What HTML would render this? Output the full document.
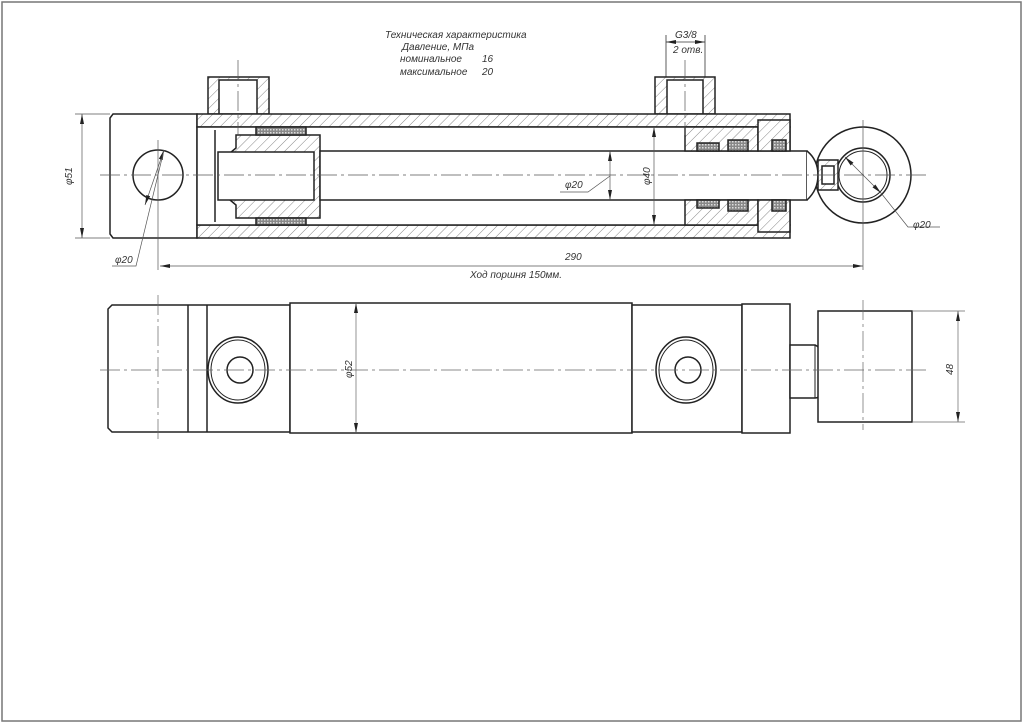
<!DOCTYPE html>
<html><head><meta charset="utf-8"><style>
html,body{margin:0;padding:0;background:#fff}
svg{display:block}
text{font-family:"Liberation Sans Narrow","Liberation Sans","DejaVu Sans",sans-serif;font-style:italic;fill:#333}
</style></head><body>
<svg width="1024" height="724" viewBox="0 0 1024 724" xmlns="http://www.w3.org/2000/svg">
<defs>
<pattern id="h" patternUnits="userSpaceOnUse" width="7" height="7" patternTransform="rotate(45)">
<rect width="7" height="7" fill="#fff"/><line x1="0" y1="0" x2="0" y2="7" stroke="#555" stroke-width="0.7"/></pattern>
<pattern id="x" patternUnits="userSpaceOnUse" width="3" height="3">
<rect width="3" height="3" fill="#888"/><rect width="1.5" height="1.5" fill="#ddd"/></pattern>
<marker id="a" markerWidth="10" markerHeight="6" refX="10" refY="3" orient="auto-start-reverse" markerUnits="userSpaceOnUse"><path d="M0,1 L10,3 L0,5z" fill="#222"/></marker>
</defs>
<rect x="2" y="2" width="1019" height="719" fill="none" stroke="#777" stroke-width="1.5"/>

<text x="385" y="38" font-size="10">Техническая характеристика</text>
<text x="402" y="50" font-size="10">Давление, МПа</text>
<text x="400" y="62" font-size="10">номинальное</text><text x="482" y="62" font-size="10">16</text>
<text x="400" y="75" font-size="10">максимальное</text><text x="482" y="75" font-size="10">20</text>
<text x="675" y="38" font-size="10">G3/8</text>
<text x="673" y="53" font-size="10">2 отв.</text>
<g stroke="#333" stroke-width="0.8" fill="none">
<line x1="666" y1="35" x2="666" y2="77"/><line x1="705" y1="35" x2="705" y2="77"/>
<line x1="666" y1="42" x2="705" y2="42" marker-start="url(#a)" marker-end="url(#a)"/>
</g>

<g stroke="#222" stroke-width="1.5">
<path d="M113,114 L197,114 L197,238 L113,238 L110,234 L110,118 Z" fill="#fff"/>
<circle cx="158" cy="175" r="25" fill="#fff"/>
<rect x="208" y="77" width="61" height="37" fill="url(#h)"/>
<rect x="219" y="80" width="38" height="34" fill="#fff"/>
<rect x="655" y="77" width="60" height="37" fill="url(#h)"/>
<rect x="667" y="80" width="36" height="34" fill="#fff"/>
<rect x="197" y="114" width="593" height="13" fill="url(#h)"/>
<rect x="197" y="225" width="593" height="13" fill="url(#h)"/>
<rect x="197" y="127" width="593" height="98" fill="#fff"/>
<path d="M236,135 L320,135 L320,218 L236,218 L236,205 L230,200 L230,153 L236,148 Z" fill="url(#h)"/>
<rect x="218" y="152" width="96" height="48" fill="#fff"/>
<rect x="256" y="127" width="50" height="8" fill="url(#x)"/>
<rect x="256" y="218" width="50" height="7" fill="url(#x)"/>
<line x1="215" y1="130" x2="215" y2="222"/>
<rect x="320" y="151" width="487" height="49" fill="#fff"/>
<path d="M685,127 L758,127 L758,151 L685,151 Z" fill="url(#h)"/>
<path d="M685,200 L758,200 L758,225 L685,225 Z" fill="url(#h)"/>
<path d="M758,120 L790,120 L790,151 L758,151 Z" fill="url(#h)"/>
<path d="M758,200 L790,200 L790,232 L758,232 Z" fill="url(#h)"/>
<rect x="697" y="143" width="22" height="8" fill="url(#x)"/>
<rect x="728" y="140" width="20" height="11" fill="url(#x)"/>
<rect x="697" y="200" width="22" height="8" fill="url(#x)"/>
<rect x="728" y="200" width="20" height="11" fill="url(#x)"/>
<rect x="772" y="140" width="14" height="11" fill="url(#x)"/>
<rect x="772" y="200" width="14" height="11" fill="url(#x)"/>
<circle cx="863" cy="175" r="48" fill="#fff"/>
<circle cx="863" cy="175" r="27" fill="#fff"/>
<circle cx="863" cy="175" r="24" fill="none" stroke-width="1"/>
<path d="M807,151 Q818,160 818,175 Q818,190 807,200" fill="#fff"/>
<rect x="818" y="160" width="20" height="30" fill="url(#h)"/>
<rect x="822" y="166" width="12" height="18" fill="#fff"/>
</g>

<g stroke="#555" stroke-width="0.7" fill="none">
<line x1="100" y1="175" x2="930" y2="175" stroke-dasharray="20,4,3,4"/>
<line x1="158" y1="140" x2="158" y2="270"/>
<line x1="863" y1="120" x2="863" y2="270"/>
<line x1="238" y1="60" x2="238" y2="135" stroke-dasharray="20,4,3,4"/>
<line x1="685" y1="60" x2="685" y2="135" stroke-dasharray="20,4,3,4"/>
<line x1="75" y1="114" x2="110" y2="114"/><line x1="75" y1="238" x2="110" y2="238"/>
<line x1="82" y1="114" x2="82" y2="238" marker-start="url(#a)" marker-end="url(#a)"/>
<line x1="160" y1="266" x2="863" y2="266" marker-start="url(#a)" marker-end="url(#a)"/>
<line x1="654" y1="127" x2="654" y2="225" marker-start="url(#a)" marker-end="url(#a)"/>
<line x1="610" y1="151" x2="610" y2="200" marker-start="url(#a)" marker-end="url(#a)"/>
<polyline points="560,192 588,192 610,176"/>
<line x1="145" y1="205" x2="164" y2="150" marker-start="url(#a)" marker-end="url(#a)"/>
<polyline points="112,266 136,266 164,150"/>
<line x1="845" y1="157" x2="881" y2="193" marker-start="url(#a)" marker-end="url(#a)"/>
<polyline points="881,193 908,227 940,227"/>
</g>
<text x="72" y="185" font-size="10" transform="rotate(-90 72 185)">φ51</text>
<text x="115" y="263" font-size="10">φ20</text>
<text x="565" y="188" font-size="10">φ20</text>
<text x="650" y="185" font-size="10" transform="rotate(-90 650 185)">φ40</text>
<text x="913" y="228" font-size="10">φ20</text>
<text x="565" y="260" font-size="10">290</text>
<text x="470" y="278" font-size="10">Ход поршня 150мм.</text>

<g stroke="#222" stroke-width="1.5" fill="#fff">
<path d="M112,305 L290,305 L290,432 L112,432 L108,428 L108,309 Z"/>
<line x1="188" y1="305" x2="188" y2="432"/><line x1="207" y1="305" x2="207" y2="432"/>
<rect x="290" y="303" width="342" height="130"/>
<rect x="632" y="305" width="110" height="127"/>
<rect x="742" y="304" width="48" height="129"/>
<path d="M790,345 L815,345 Q820,347 820,352 L820,393 Q820,398 815,398 L790,398 Z"/>
<line x1="815" y1="345" x2="815" y2="398" stroke-width="1"/>
<rect x="818" y="311" width="94" height="111"/>
<ellipse cx="238" cy="370" rx="30" ry="33"/><ellipse cx="238" cy="370" rx="27" ry="30" stroke-width="1"/>
<circle cx="240" cy="370" r="13"/>
<ellipse cx="686" cy="370" rx="30" ry="33"/><ellipse cx="686" cy="370" rx="27" ry="30" stroke-width="1"/>
<circle cx="688" cy="370" r="13"/>
</g>
<g stroke="#666" stroke-width="0.7" fill="none">
<line x1="100" y1="370" x2="930" y2="370" stroke-dasharray="20,4,3,4"/>
<line x1="158" y1="295" x2="158" y2="440" stroke-dasharray="20,4,3,4"/>
<line x1="863" y1="300" x2="863" y2="430" stroke-dasharray="20,4,3,4"/>
<line x1="356" y1="303" x2="356" y2="433" marker-start="url(#a)" marker-end="url(#a)"/>
<line x1="912" y1="311" x2="965" y2="311"/><line x1="912" y1="422" x2="965" y2="422"/>
<line x1="958" y1="311" x2="958" y2="422" marker-start="url(#a)" marker-end="url(#a)"/>
</g>
<text x="352" y="378" font-size="10" transform="rotate(-90 352 378)">φ52</text>
<text x="953" y="375" font-size="10" transform="rotate(-90 953 375)">48</text>
</svg>
</body></html>
